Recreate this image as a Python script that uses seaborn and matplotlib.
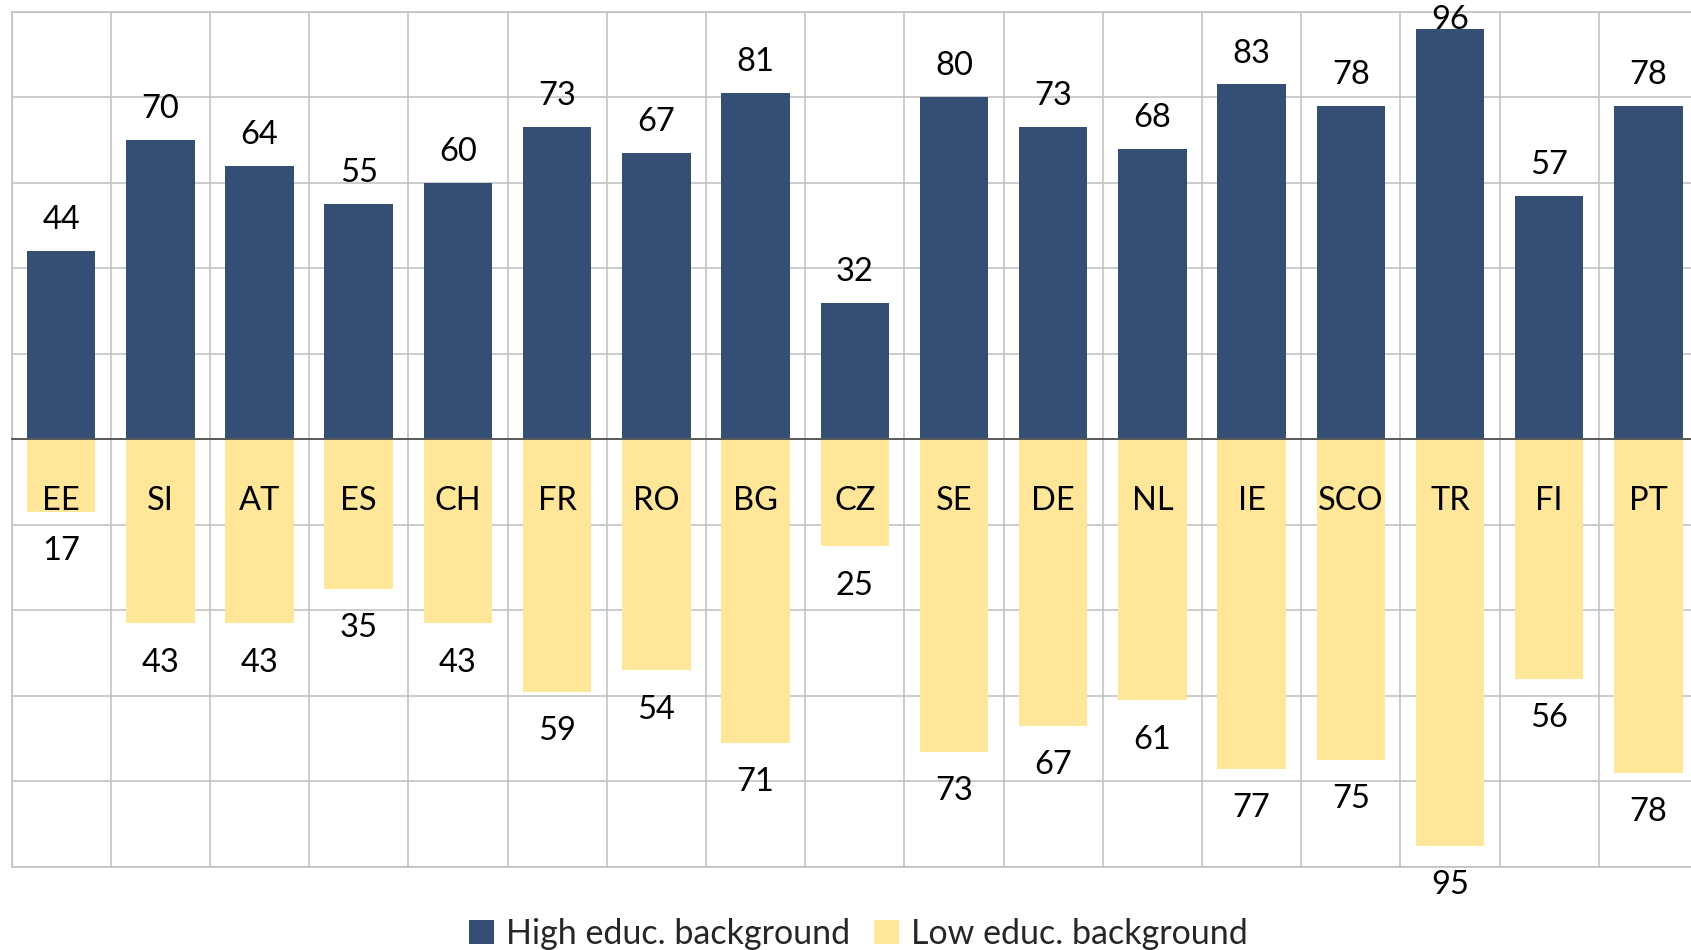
import matplotlib
matplotlib.use("Agg")
import matplotlib.pyplot as plt
import seaborn as sns
import pandas as pd
import numpy as np
from matplotlib.patches import Patch
from matplotlib.ticker import FixedLocator

countries = ["EE", "SI", "AT", "ES", "CH", "FR", "RO", "BG", "CZ", "SE", "DE", "NL", "IE", "SCO", "TR", "FI", "PT"]
high_educ = [44, 70, 64, 55, 60, 73, 67, 81, 32, 80, 73, 68, 83, 78, 96, 57, 78]
low_educ = [17, 43, 43, 35, 43, 59, 54, 71, 25, 73, 67, 61, 77, 75, 95, 56, 78]
series_names = ["High educ. background", "Low educ. background"]

sns.set_theme(style="white")
plt.rcParams["font.family"] = ["Lato", "DejaVu Sans"]

HIGH_C = "#344e74"
LOW_C = "#ffe699"
GRID_C = "#bfbfbf"
FS = 23.5

df = pd.DataFrame({
    "country": countries * 2,
    "group": [series_names[0]] * len(countries) + [series_names[1]] * len(countries),
    "value": list(high_educ) + [-v for v in low_educ],
})

W, H = 1691, 950
fig = plt.figure(figsize=(W / 100, H / 100), dpi=100)
left, right, top, bottom = 11.5, 1698, 11.7, 867
ax = fig.add_axes([left / W, 1 - bottom / H, (right - left) / W, (bottom - top) / H])

sns.barplot(data=df, x="country", y="value", hue="group", dodge=False,
            palette={series_names[0]: HIGH_C, series_names[1]: LOW_C},
            saturation=1, width=0.69, errorbar=None, linewidth=0, ax=ax,
            legend=False, zorder=3)

n = len(countries)
ax.set_xlim(-0.5, n - 0.5)
ax.set_ylim(-100, 100)

# grid
ax.yaxis.set_major_locator(FixedLocator(np.arange(-100, 101, 20)))
ax.xaxis.set_minor_locator(FixedLocator(np.arange(-0.5, n, 1.0)))
ax.grid(True, axis="y", which="major", color=GRID_C, lw=1.1, zorder=0)
ax.grid(True, axis="x", which="minor", color=GRID_C, lw=1.1, zorder=0)
ax.set_axisbelow(True)
for yy in (-100, 100):
    ax.axhline(yy, color=GRID_C, lw=1.1, clip_on=False, zorder=0)
ax.axvline(-0.5, color=GRID_C, lw=1.1, clip_on=False, zorder=0)

for s in ("left", "right", "top"):
    ax.spines[s].set_visible(False)
ax.spines["bottom"].set_position(("data", 0))
ax.spines["bottom"].set_color("#595959")
ax.spines["bottom"].set_linewidth(1.4)
ax.spines["bottom"].set_zorder(4)
ax.tick_params(axis="x", which="major", length=0, labelbottom=False)
ax.tick_params(axis="x", which="minor", length=7, width=1.1, color="#595959", direction="out")
ax.tick_params(axis="y", which="both", length=0, labelleft=False)
ax.set_xlabel("")
ax.set_ylabel("")

# labels
for i, (c, h, l) in enumerate(zip(countries, high_educ, low_educ)):
    ax.text(i, min(h + 5.1, 96.0), f"{h}", ha="center", va="baseline", fontsize=FS, color="black", zorder=5)
    ax.text(i, -(l + 11.3), f"{l}", ha="center", va="baseline", fontsize=FS, color="black", zorder=5, clip_on=False)
    ax.text(i, -16.6, c, ha="center", va="baseline", fontsize=FS, color="black", zorder=5)

handles = [Patch(facecolor=HIGH_C, edgecolor="none"), Patch(facecolor=LOW_C, edgecolor="none")]
fig.legend(handles, series_names, loc="center", bbox_to_anchor=(858 / W, 1 - 934 / H),
           ncol=2, frameon=False, fontsize=FS + 1.0, handlelength=0.74, handleheight=0.74,
           handletextpad=0.35, columnspacing=0.7, borderaxespad=0)

fig.savefig("out.png", dpi=100)
